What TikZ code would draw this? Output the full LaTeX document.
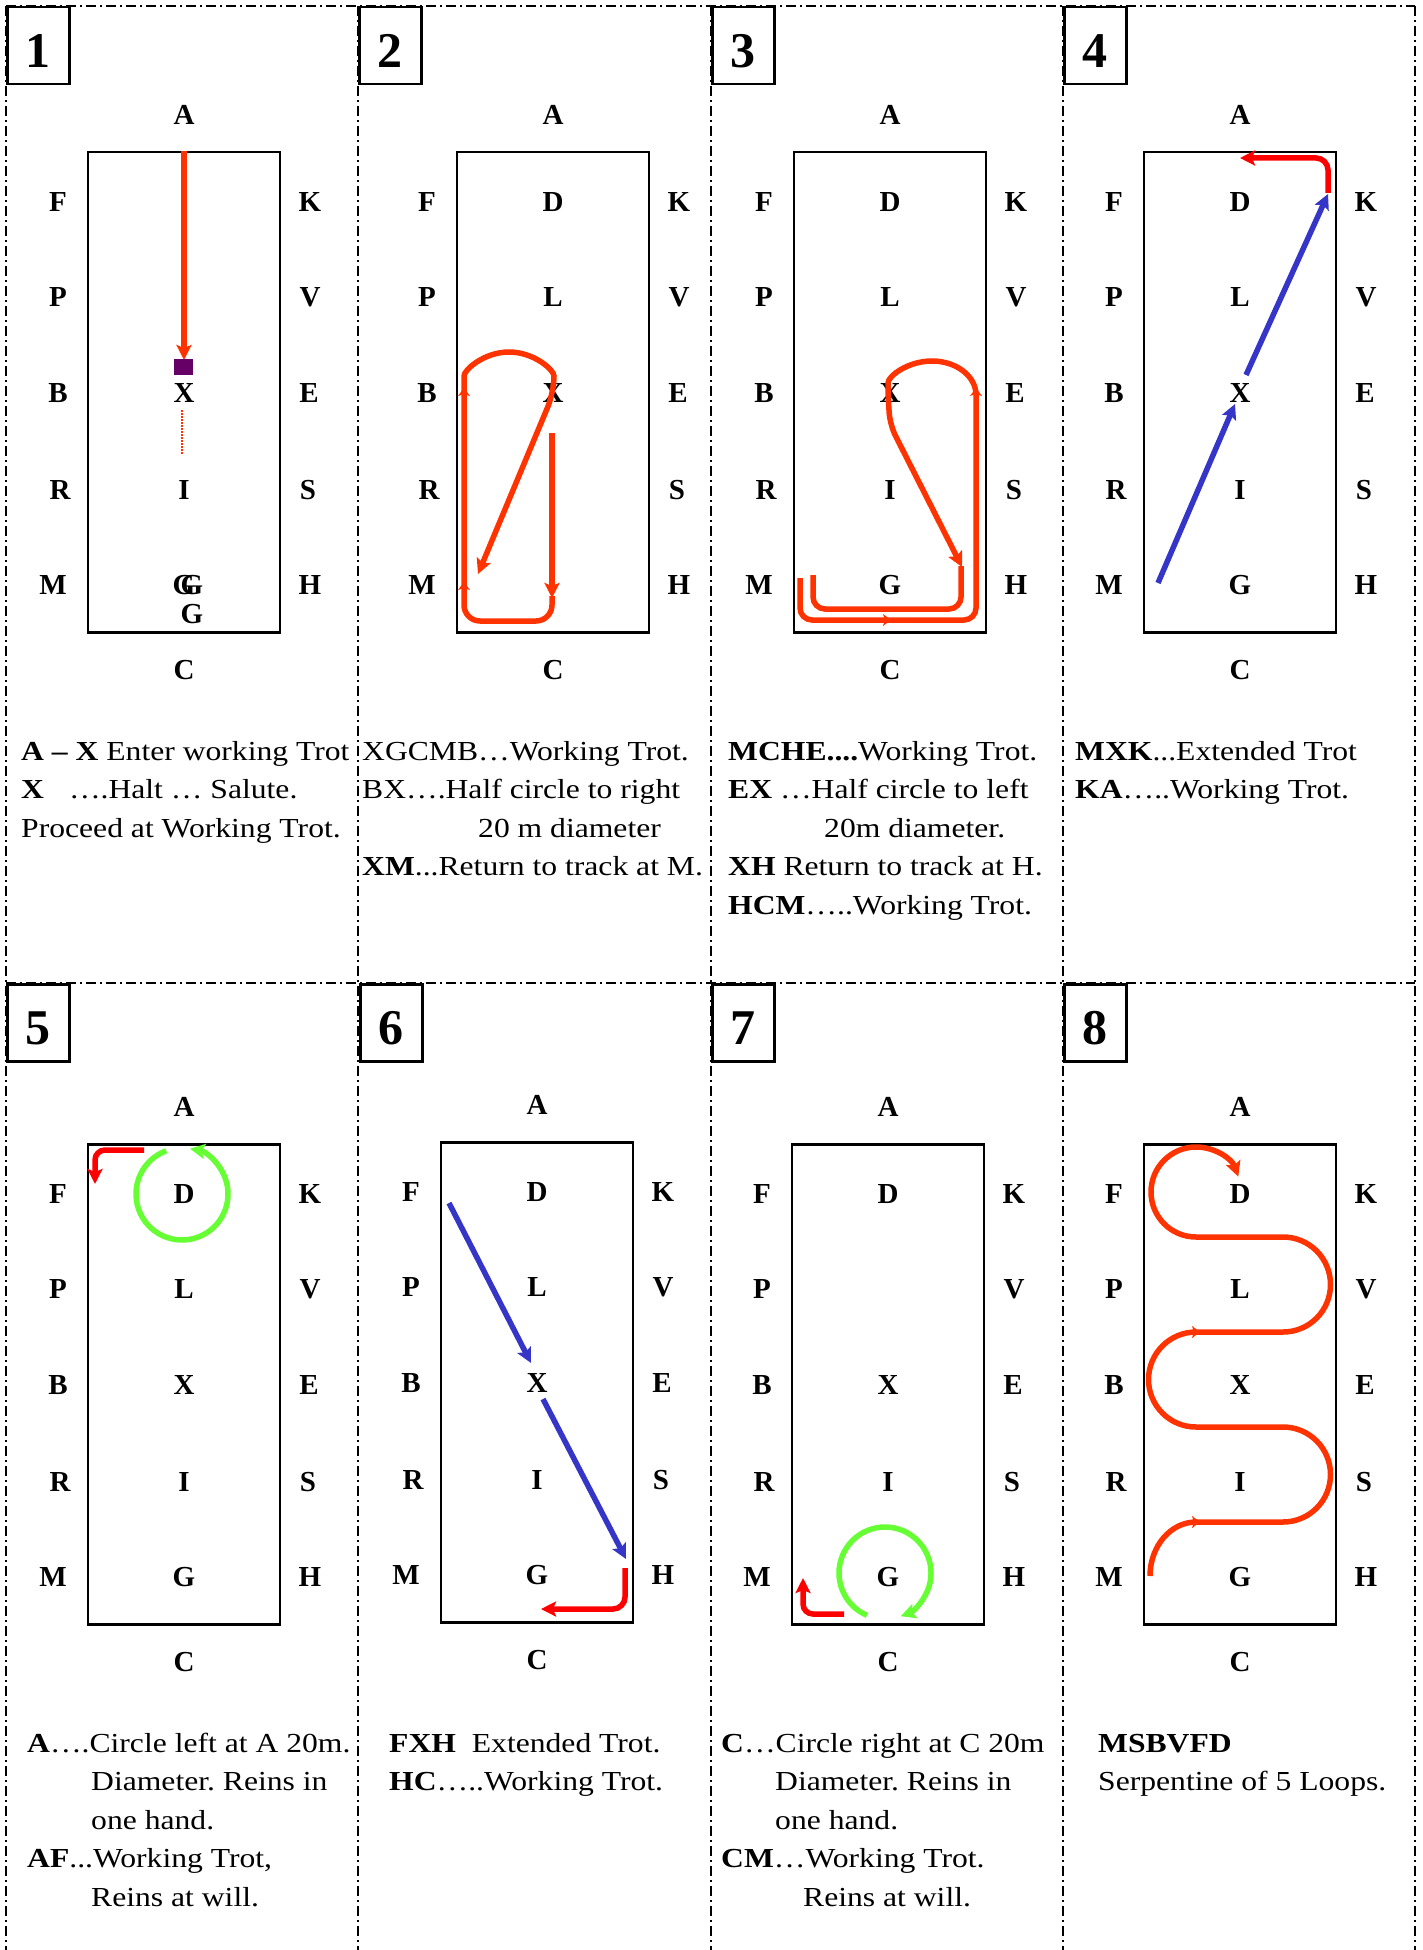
\documentclass[tikz,border=0pt]{standalone}
\usepackage{fontspec}
\setmainfont{Liberation Serif}
\newfontfamily\descfont[FakeStretch=1.15]{Liberation Serif}
\usetikzlibrary{arrows.meta}
\definecolor{orr}{HTML}{FF3300}
\definecolor{rd}{HTML}{FF0000}
\definecolor{bl}{HTML}{3535C8}
\definecolor{gr}{HTML}{66FF33}
\definecolor{pur}{HTML}{660066}
\frenchspacing
\newcommand\arena[4]{%
\begin{scope}[shift={(#2,-#3)}]
\node[arena, minimum width=192pt, minimum height=480pt, anchor=north, inner sep=0pt] (#1rect) at (0,0) {};
\node[lt] (#1A) at (0,36) {A};
\node[lt] (#1C) at (0,-519) {C};
\node[lt] (#1F) at (-126,-51) {F};
\node[lt] (#1P) at (-126,-146) {P};
\node[lt] (#1B) at (-126,-242) {B};
\node[lt] (#1R) at (-124,-339) {R};
\node[lt] (#1M) at (-131,-434) {M};
\node[lt] (#1K) at (126,-51) {K};
\node[lt] (#1V) at (126,-146) {V};
\node[lt] (#1E) at (125,-242) {E};
\node[lt] (#1S) at (124,-339) {S};
\node[lt] (#1H) at (126,-434) {H};
\foreach \l/\d in {#4} {\node[lt] (#1c\l) at (0,-\d) {\l};}
\end{scope}}
\begin{document}
\begin{tikzpicture}[x=1pt,y=1pt,
 lt/.style={inner sep=0pt, text height=19pt, text depth=0pt, font=\fontsize{29}{29}\selectfont\bfseries},
 num/.style={inner sep=0pt, text height=34pt, text depth=0pt, font=\fontsize{50}{50}\selectfont\bfseries},
 desc/.style={anchor=base west, inner sep=0pt, font=\descfont\fontsize{27.5}{32}\selectfont},
 divider/.style={line width=2pt, dash pattern=on 10pt off 4pt on 2pt off 4pt},
 numbox/.style={draw, line width=2.5pt, fill=white, inner sep=0pt},
 arena/.style={draw, line width=2.5pt},
 route/.style={line width=5.5pt},
 tip/.style={-{Stealth[length=15pt,width=15pt,inset=3pt]}},
 smalltip/.style={-{Stealth[length=8pt,width=12pt,inset=2pt]}},
]
\useasboundingbox (0,0) rectangle (1423,-1950);
% dividers
\draw[divider] (6,-6) -- (1415,-6);
\draw[divider] (6,-983) -- (1415,-983);
\foreach \x in {6,358,711,1063,1415} \draw[divider] (\x,-6) -- (\x,-1950);
% number boxes
\foreach \n/\x/\y in {1/6/6, 2/358/6, 3/711/6, 4/1063/6, 5/6/983, 6/359/983, 7/711/983, 8/1063/983} {
 \node[numbox, minimum width=62pt, minimum height=77pt, anchor=north west] (box\n) at (\x,-\y) {};
 \node[num] (num\n) at ([yshift=-5pt]box\n.center) {\n};
}
% arenas
\arena{p1}{184}{151}{X/242,I/339}
\node[lt] (p1G1) at (184,-585) {G};
\node[lt] (p1G2) at (192,-585) {G};
\node[lt] (p1G3) at (192,-614) {G};
\arena{p2}{553}{151}{D/51,L/146,X/242}
\arena{p3}{890}{151}{D/51,L/146,X/242,I/339,G/434}
\arena{p4}{1240}{151}{D/51,L/146,X/242,I/339,G/434}
\arena{p5}{184}{1143}{D/51,L/146,X/242,I/339,G/434}
\arena{p6}{537}{1141}{D/51,L/146,X/242,I/339,G/434}
\arena{p7}{888}{1143}{D/51,X/242,I/339,G/434}
\arena{p8}{1240}{1143}{D/51,L/146,X/242,I/339,G/434}
% panel 1
\draw[orr, route, tip] (184,-151) -- (184,-360);
\fill[pur] (174,-359) rectangle (193,-375);
\draw[orr, line width=2pt, dash pattern=on 1.5pt off 1.5pt] (182,-410) -- (182,-455);
% panel 2
\draw[orr, route, tip] (552,-433) -- (552,-598);
\draw[orr, route, rounded corners=16pt, tip] (552,-596) -- (552,-621) -- (464,-621) -- (464,-392)
  arc[start angle=180, end angle=0, x radius=45, y radius=40] -- (478,-574);
\draw[orr, line width=2pt, smalltip] (464,-598) -- (464,-582);
\draw[orr, line width=2pt, smalltip] (464,-405) -- (464,-388);
% panel 3
\draw[orr, route, rounded corners=12pt] (800,-578) -- (800,-620) -- (976,-620) -- (976,-393);
\draw[orr, route, rounded corners=12pt, tip] (976,-395)
  arc[start angle=0, end angle=180, x radius=44, y radius=34] -- (890,-425) -- (962,-567);
\draw[orr, route, rounded corners=12pt] (813,-575) -- (813,-609) -- (961,-609) -- (961,-566);
\draw[orr, line width=2pt, smalltip] (875,-620) -- (891,-620);
\draw[orr, line width=2pt, smalltip] (976,-405) -- (976,-388);
% panel 4
\draw[bl, route, tip] (1158,-583) -- (1235,-404);
\draw[bl, route, tip] (1246,-375) -- (1328,-194);
\draw[rd, route, rounded corners=12pt, tip] (1328,-193) -- (1328,-158) -- (1240,-158);
% panel 5
\draw[gr, route, tip] (182,-1194) ++(110:46) arc[start angle=110, end angle=440, radius=46];
\draw[rd, route, rounded corners=10pt, tip] (144,-1150) -- (95,-1150) -- (95,-1184);
% panel 6
\draw[bl, route, tip] (449,-1203) -- (531,-1363);
\draw[bl, route, tip] (543,-1399) -- (626,-1559);
\draw[rd, route, rounded corners=12pt, tip] (625,-1568) -- (625,-1609) -- (541,-1609);
% panel 7
\draw[gr, route, tip] (885,-1573) ++(247:46) arc[start angle=247, end angle=-70, radius=46];
\draw[rd, route, rounded corners=10pt, tip] (844,-1614) -- (803,-1614) -- (803,-1578);
% panel 8
\draw[orr, route, tip] (1150,-1576) arc[start angle=180, end angle=90, x radius=46, y radius=54]
  -- (1283,-1522) arc[start angle=270, end angle=450, radius=47.5]
  -- (1196,-1427) arc[start angle=270, end angle=90, radius=47.5]
  -- (1283,-1332) arc[start angle=270, end angle=450, radius=47.5]
  -- (1196,-1237) arc[start angle=270, end angle=20, radius=45];
\draw[orr, line width=2pt, smalltip] (1185,-1522) -- (1200,-1522);
\draw[orr, line width=2pt, smalltip] (1185,-1332) -- (1200,-1332);
% texts row 1
\node[desc] (t1a) at (21,-760) {\textbf{A – X} Enter working Trot};
\node[desc] (t1b) at (21,-798.5) {\textbf{X}\hspace{25pt}….Halt … Salute.};
\node[desc] (t1c) at (21,-837) {Proceed at Working Trot.};
\node[desc] (t2a) at (362,-760) {XGCMB…Working Trot.};
\node[desc] (t2b) at (362,-798.5) {BX….Half circle to right};
\node[desc] (t2c) at (478,-837) {20 m diameter};
\node[desc] (t2d) at (362,-875.5) {\textbf{XM}...Return to track at M.};
\node[desc] (t3a) at (728,-760) {\textbf{MCHE....}Working Trot.};
\node[desc] (t3b) at (728,-798.5) {\textbf{EX} …Half circle to left};
\node[desc] (t3c) at (824,-837) {20m diameter.};
\node[desc] (t3d) at (728,-875.5) {\textbf{XH} Return to track at H.};
\node[desc] (t3e) at (728,-914) {\textbf{HCM}…..Working Trot.};
\node[desc] (t4a) at (1075,-760) {\textbf{MXK}...Extended Trot};
\node[desc] (t4b) at (1075,-798.5) {\textbf{KA}…..Working Trot.};
% texts row 2
\node[desc] (t5a) at (27,-1752) {\textbf{A}….Circle left at A 20m.};
\node[desc] (t5b) at (91,-1790.5) {Diameter. Reins in};
\node[desc] (t5c) at (91,-1829) {one hand.};
\node[desc] (t5d) at (27,-1867.5) {\textbf{AF}...Working Trot,};
\node[desc] (t5e) at (91,-1906) {Reins at will.};
\node[desc] (t6a) at (389,-1752) {\textbf{FXH}\hspace{8pt} Extended Trot.};
\node[desc] (t6b) at (389,-1790.5) {\textbf{HC}…..Working Trot.};
\node[desc] (t7a) at (721,-1752) {\textbf{C}…Circle right at C 20m};
\node[desc] (t7b) at (775,-1790.5) {Diameter. Reins in};
\node[desc] (t7c) at (775,-1829) {one hand.};
\node[desc] (t7d) at (721,-1867.5) {\textbf{CM}…Working Trot.};
\node[desc] (t7e) at (803,-1906) {Reins at will.};
\node[desc] (t8a) at (1098,-1752) {\textbf{MSBVFD}};
\node[desc] (t8b) at (1098,-1790.5) {Serpentine of 5 Loops.};
\end{tikzpicture}
\end{document}
